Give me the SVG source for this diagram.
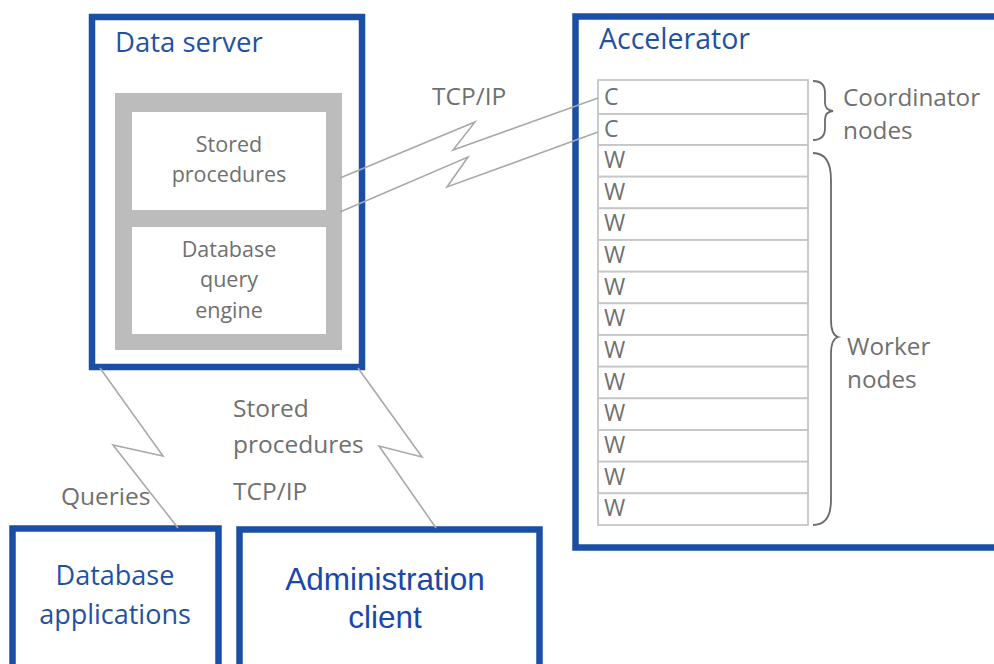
<svg xmlns="http://www.w3.org/2000/svg" width="994" height="664" viewBox="0 0 994 664">
<style>
.box{fill:#fff;stroke:#1b4fa5;stroke-width:6.5}
.title{font-family:"Open Sans",sans-serif;fill:#1f51a3}
.gt{font-family:"Open Sans",sans-serif;fill:#707070}
.row{fill:#fff;stroke:#c6c6c6;stroke-width:1.8}
.conn{fill:none;stroke:#a9a9a9;stroke-width:1.6;stroke-linejoin:miter}
.brace{fill:none;stroke:#6a6a6a;stroke-width:1.8}
</style>
<rect width="994" height="664" fill="#fff"/>
<g id="data-server">
<rect class="box" x="92" y="17" width="270" height="350"/>
<text class="title" x="115" y="52" font-size="27.5">Data server</text>
<rect x="115" y="93" width="227" height="257" fill="#bcbcbc"/>
<g id="stored-procedures">
<rect x="132" y="112" width="194" height="98" fill="#fff"/>
<text class="gt" x="229" y="152" font-size="21.5" text-anchor="middle">Stored</text>
<text class="gt" x="229" y="182" font-size="21.5" text-anchor="middle">procedures</text>
</g>
<g id="query-engine">
<rect x="132" y="227" width="194" height="107" fill="#fff"/>
<text class="gt" x="229" y="257" font-size="21.5" text-anchor="middle">Database</text>
<text class="gt" x="229" y="287" font-size="21.5" text-anchor="middle">query</text>
<text class="gt" x="229" y="318" font-size="21.5" text-anchor="middle">engine</text>
</g>
</g>
<g id="accelerator">
<rect class="box" x="575.5" y="16.5" width="450" height="531" stroke-width="7"/>
<text class="title" x="599" y="49" font-size="28.5">Accelerator</text>
<g id="nodes" class="gt" font-size="23">
<rect class="row" x="598" y="80" width="210" height="34"/><text x="604" y="105">C</text>
<rect class="row" x="598" y="114" width="210" height="31"/><text x="604" y="137">C</text>
<rect class="row" x="598" y="145" width="210" height="31.67"/><text x="604" y="168">W</text>
<rect class="row" x="598" y="176.67" width="210" height="31.67"/><text x="604" y="199.7">W</text>
<rect class="row" x="598" y="208.33" width="210" height="31.67"/><text x="604" y="231.3">W</text>
<rect class="row" x="598" y="240" width="210" height="31.67"/><text x="604" y="263">W</text>
<rect class="row" x="598" y="271.67" width="210" height="31.67"/><text x="604" y="294.7">W</text>
<rect class="row" x="598" y="303.33" width="210" height="31.67"/><text x="604" y="326.3">W</text>
<rect class="row" x="598" y="335" width="210" height="31.67"/><text x="604" y="358">W</text>
<rect class="row" x="598" y="366.67" width="210" height="31.67"/><text x="604" y="389.7">W</text>
<rect class="row" x="598" y="398.33" width="210" height="31.67"/><text x="604" y="421.3">W</text>
<rect class="row" x="598" y="430" width="210" height="31.67"/><text x="604" y="453">W</text>
<rect class="row" x="598" y="461.67" width="210" height="31.67"/><text x="604" y="484.7">W</text>
<rect class="row" x="598" y="493.33" width="210" height="31.67"/><text x="604" y="516.3">W</text>
</g>
<path class="brace" d="M813 81 Q825 81 825 93 L825 103 Q825 110 833 111 Q825 112 825 119 L825 128 Q825 140 813 140"/>
<text class="gt" font-size="24.3"><tspan x="843" y="106">Coordinator</tspan><tspan x="843" y="139">nodes</tspan></text>
<path class="brace" d="M813 153 Q831 153 831 180 L831 320 Q831 335 838 337 Q831 339 831 354 L831 500 Q831 525 813 525"/>
<text class="gt" font-size="24.3"><tspan x="847" y="355">Worker</tspan><tspan x="847" y="388">nodes</tspan></text>
</g>
<g id="database-applications">
<rect class="box" x="12.5" y="528.5" width="206" height="160" stroke-width="7"/>
<text class="title" x="115" y="585" font-size="27" text-anchor="middle">Database</text>
<text class="title" x="115" y="624" font-size="27" text-anchor="middle">applications</text>
</g>
<g id="administration-client">
<rect class="box" x="239.5" y="529.5" width="300" height="160" stroke-width="7"/>
<text x="385" y="590" font-size="31.5" text-anchor="middle" font-family="Liberation Sans, Arial, sans-serif" fill="#1a47ab">Administration</text>
<text x="385" y="628" font-size="31.5" text-anchor="middle" font-family="Liberation Sans, Arial, sans-serif" fill="#1a47ab">client</text>
</g>
<g id="connectors">
<path class="conn" d="M340 178 L475 122 L453 150 L598 98"/>
<path class="conn" d="M340 212 L468 157 L447 187 L598 132"/>
<path class="conn" d="M100 368 L163 456 L113 445 L178 528"/>
<path class="conn" d="M358 368 L422 457 L379 446 L436 528"/>
</g>
<g id="labels" class="gt" font-size="24.5">
<text x="432" y="105">TCP/IP</text>
<text x="61" y="505">Queries</text>
<text x="233" y="417">Stored</text>
<text x="233" y="453">procedures</text>
<text x="233" y="500">TCP/IP</text>
</g>
</svg>
